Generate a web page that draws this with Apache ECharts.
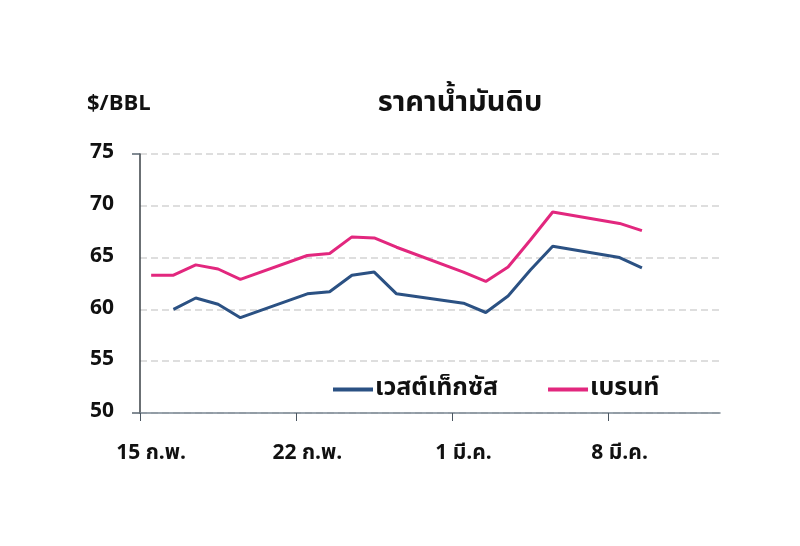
<!DOCTYPE html>
<html>
<head>
<meta charset="utf-8">
<script src="https://cdn.jsdelivr.net/npm/echarts@6/dist/echarts.min.js"></script>
<style>
html,body{margin:0;padding:0;background:#fff;}
#c{width:800px;height:546px;}
</style>
</head>
<body>
<div id="c"></div>
<script>
const dates = ['15 ก.พ.','16 ก.พ.','17 ก.พ.','18 ก.พ.','19 ก.พ.','20 ก.พ.','21 ก.พ.',
  '22 ก.พ.','23 ก.พ.','24 ก.พ.','25 ก.พ.','26 ก.พ.','27 ก.พ.','28 ก.พ.',
  '1 มี.ค.','2 มี.ค.','3 มี.ค.','4 มี.ค.','5 มี.ค.','6 มี.ค.','7 มี.ค.',
  '8 มี.ค.','9 มี.ค.','10 มี.ค.','11 มี.ค.','12 มี.ค.'];
const wti = [null,60.0,61.1,60.5,59.2,null,null,61.5,61.7,63.3,63.6,61.5,null,null,
  60.6,59.7,61.3,63.8,66.1,null,null,65.0,64.0,null,null,null];
const brent = [63.3,63.3,64.3,63.9,62.9,null,null,65.2,65.4,67.0,66.9,66.0,null,null,
  63.6,62.7,64.1,66.7,69.4,null,null,68.3,67.6,null,null,null];
const weekTickDays = [0,7,14,21];
const seriesNames = ['เวสต์เท็กซัส','เบรนท์'];
const yMin = 50, yMax = 75, yStep = 5;
const titleText = 'ราคาน้ำมันดิบ';
const unitText = '$/BBL';

const FONT = '"Noto Sans Thai","Noto Sans","Liberation Sans",sans-serif';
const chart = echarts.init(document.getElementById('c'));
chart.setOption({
  animation:false,
  backgroundColor:'#ffffff',
  title:[
    {text:titleText,left:455,top:86,textAlign:'center',
     textStyle:{fontFamily:FONT,fontSize:29,fontWeight:'bold',color:'#111'}},
    {text:unitText,left:82,top:90,
     textStyle:{fontFamily:FONT,fontSize:22,fontWeight:'bold',color:'#111'}}
  ],
  legend:{
    left:328, top:372, itemWidth:40, itemHeight:4, itemGap:50, icon:'rect',
    textStyle:{fontFamily:FONT,fontSize:25,fontWeight:'bold',color:'#111',padding:[0,0,0,-3]},
    data:seriesNames
  },
  grid:{left:140,right:80,top:154,bottom:133,containLabel:false},
  xAxis:[{
    type:'category', data:dates, boundaryGap:true,
    axisLine:{show:true,lineStyle:{color:'#7a8792',width:1.5}},
    axisTick:{show:false},
    axisLabel:{interval:6,margin:31,fontFamily:FONT,fontSize:21,fontWeight:'bold',color:'#111'},
    splitLine:{show:false}
  },{
    type:'value', min:0, max:dates.length, position:'bottom',
    axisLine:{show:false},
    axisTick:{show:true,customValues:weekTickDays,length:8,lineStyle:{color:'#4a5560',width:1}},
    axisLabel:{show:false},
    splitLine:{show:false}
  }],
  yAxis:[{
    type:'value', min:yMin, max:yMax, interval:yStep,
    axisLine:{show:true,lineStyle:{color:'#3a4046',width:1.5}},
    axisTick:{show:false},
    axisLabel:{margin:26,fontFamily:FONT,fontSize:21,fontWeight:'bold',color:'#111'},
    splitLine:{show:true,lineStyle:{color:'#d4d4d4',width:1.5,type:[7,4]}}
  },{
    type:'value', min:yMin, max:yMax, interval:yMax-yMin, position:'left',
    axisLine:{show:false},
    axisTick:{show:true,length:8,lineStyle:{color:'#5a6670',width:1.5}},
    axisLabel:{show:false},
    splitLine:{show:false}
  }],
  series:[
    {name:seriesNames[0],type:'line',data:wti,connectNulls:true,showSymbol:false,symbol:'none',
     lineStyle:{color:'#2b5183',width:3},itemStyle:{color:'#2b5183'}},
    {name:seriesNames[1],type:'line',data:brent,connectNulls:true,showSymbol:false,symbol:'none',
     lineStyle:{color:'#e2277e',width:3},itemStyle:{color:'#e2277e'}}
  ]
});
</script>
</body>
</html>
